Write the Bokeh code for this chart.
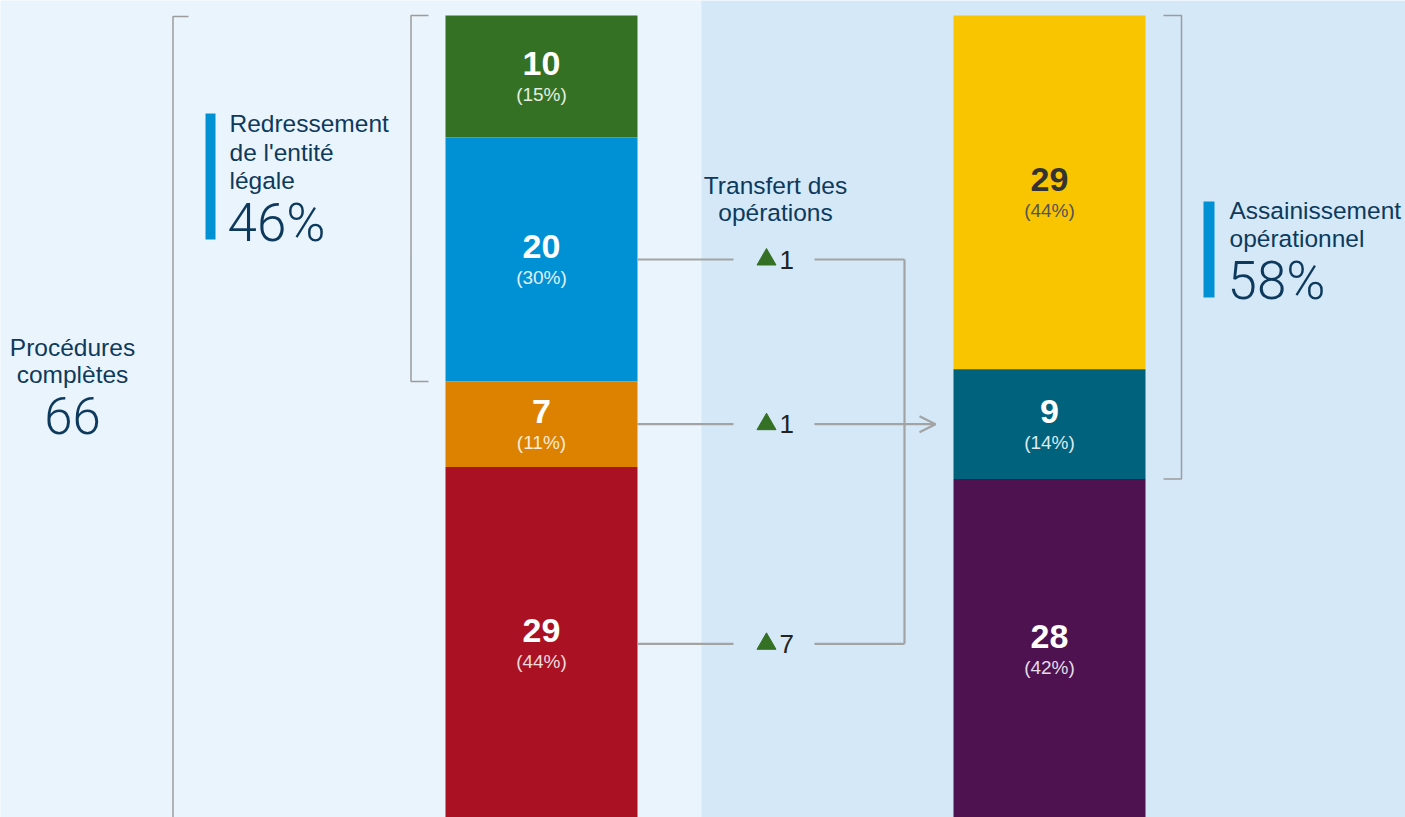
from bokeh.plotting import figure
from bokeh.models import Range1d, BoxAnnotation, Arrow, OpenHead, ColumnDataSource
from bokeh.core.properties import value
from bokeh.embed import file_html
from bokeh.resources import INLINE

# ---------------- data ----------------
left_values = [10, 20, 7, 29]          # top -> bottom
left_pcts = ["(15%)", "(30%)", "(11%)", "(44%)"]
left_colors = ["#357124", "#0091D5", "#DC8200", "#AA1122"]
left_text_colors = ["#FFFFFF", "#FFFFFF", "#FFFFFF", "#FFFFFF"]
left_pct_colors = ["#E4EEE0", "#E2F0FA", "#FBEBD6", "#F2DADD"]

right_values = [29, 9, 28]             # top -> bottom
right_pcts = ["(44%)", "(14%)", "(42%)"]
right_colors = ["#F8C500", "#00627C", "#4E1250"]
right_text_colors = ["#333333", "#FFFFFF", "#FFFFFF"]
right_pct_colors = ["#555555", "#DDE9EE", "#E4DCE6"]

transfers = [1, 1, 7]                  # from blue, orange, red segments
transfer_labels = [str(t) for t in transfers]

total_label = "66"
left_group_pct = "46%"
right_group_pct = "58%"

# ---------------- style ----------------
FONT = "Liberation Sans"
LIGHT = "Roboto Light"
NAVY = "#0D3A5C"
LEFT_BG = "#EAF4FD"
RIGHT_BG = "#D4E8F8"
GRAY = "#A3A3A3"
BRACKET = "#9C9C9C"
GREEN = "#357124"

total = sum(left_values)
px_per_unit = 12.2
top_px = 15        # figure pixel of the top of the stacks
H, W = 817, 1405

p = figure(width=W, height=H, output_backend="svg", toolbar_location=None,
           x_range=Range1d(0, W),
           y_range=Range1d(total - (H - top_px) / px_per_unit, total + top_px / px_per_unit),
           x_axis_location=None, y_axis_location=None, min_border=0)
p.grid.visible = False
p.outline_line_color = None
p.background_fill_color = LEFT_BG
p.border_fill_color = LEFT_BG
p.extra_y_ranges = {"px": Range1d(H, 0)}

p.add_layout(BoxAnnotation(left=701, right=W + 10, fill_color=RIGHT_BG, fill_alpha=1,
                           line_color=None, level="underlay"))

def stack(values):
    tops, bottoms = [], []
    cur = sum(values)
    for v in values:
        tops.append(cur)
        cur -= v
        bottoms.append(cur)
    return tops, bottoms

def draw_bar(xc, values, pcts, colors, tcols, pcols):
    tops, bottoms = stack(values)
    mids = [(a + b) / 2 for a, b in zip(tops, bottoms)]
    src = ColumnDataSource(dict(x=[xc] * len(values), top=tops, bottom=bottoms, color=colors,
                                mid=mids, val=[str(v) for v in values], pct=pcts,
                                tcol=tcols, pcol=pcols))
    p.vbar(x="x", width=192, top="top", bottom="bottom", fill_color="color",
           line_color=None, source=src)
    p.text(x="x", y="mid", text="val", source=src, text_font=value(FONT),
           text_font_style="bold", text_font_size="34px", text_color="tcol",
           text_align="center", text_baseline="middle", y_offset=-13)
    p.text(x="x", y="mid", text="pct", source=src, text_font=value(FONT),
           text_font_size="19px", text_color="pcol",
           text_align="center", text_baseline="middle", y_offset=18)
    return tops, bottoms, mids

lt, lb, lm = draw_bar(541, left_values, left_pcts, left_colors, left_text_colors, left_pct_colors)
rt, rb, rm = draw_bar(1049, right_values, right_pcts, right_colors, right_text_colors, right_pct_colors)

# ---------------- connectors ----------------
conn_y = lm[1:]   # blue, orange, red centres
xs, ys = [], []
for y in conn_y:
    xs.append([637, 733]); ys.append([y, y])
    xs.append([814, 904]); ys.append([y, y])
xs.append([904, 904]); ys.append([conn_y[0], conn_y[-1]])
p.multi_line(xs=xs, ys=ys, line_color=GRAY, line_width=2.2)
p.add_layout(Arrow(end=OpenHead(size=16, line_color=GRAY, line_width=2.2),
                   x_start=904, y_start=conn_y[1], x_end=935, y_end=conn_y[1],
                   line_color=GRAY, line_width=2.2))
p.scatter(x=[766] * 3, y=conn_y, marker="triangle", size=19, fill_color=GREEN,
          line_color=GREEN)
p.text(x=[779] * 3, y=conn_y, text=transfer_labels, text_font=value(FONT),
       text_font_size="26px", text_color="#222222", text_baseline="middle",
       text_align="left")

# ---------------- brackets ----------------
p.multi_line(xs=[[188, 172.5, 172.5]], ys=[[16, 16, 830]], y_range_name="px",
             line_color=BRACKET, line_width=1.5)
p.multi_line(xs=[[428, 410.5, 410.5, 428]], ys=[[lt[0], lt[0], lb[1], lb[1]]],
             line_color=BRACKET, line_width=1.5)
p.multi_line(xs=[[1163, 1181, 1181, 1163]], ys=[[rt[0], rt[0], rb[1], rb[1]]],
             line_color=BRACKET, line_width=1.5)

# ---------------- annotations ----------------
def txt(x, y, s, size, align="left", color=NAVY, font=FONT):
    p.text(x=[x], y=[y], text=[s], y_range_name="px", text_font=value(font),
           text_font_size=size, text_color=color, text_align=align,
           text_baseline="alphabetic")

txt(72, 347, "Procédures", "24.5px", "center")
txt(72, 374, "complètes", "24.5px", "center")
txt(72, 415, total_label, "51px", "center", font=LIGHT)

p.quad(left=[205], right=[215], top=[113], bottom=[239], y_range_name="px",
       fill_color="#0091D5", line_color=None)
txt(229, 123, "Redressement", "24.5px")
txt(229, 152, "de l'entité", "24.5px")
txt(229, 180, "légale", "24.5px")
txt(227, 222, left_group_pct, "53px", font=LIGHT)

txt(775, 185, "Transfert des", "24.5px", "center")
txt(775, 212, "opérations", "24.5px", "center")

p.quad(left=[1203], right=[1214], top=[201], bottom=[297], y_range_name="px",
       fill_color="#0091D5", line_color=None)
txt(1229, 210, "Assainissement", "24.5px")
txt(1229, 238, "opérationnel", "24.5px")
txt(1227, 280, right_group_pct, "53px", font=LIGHT)

open("out.html", "w").write(file_html(p, INLINE))
